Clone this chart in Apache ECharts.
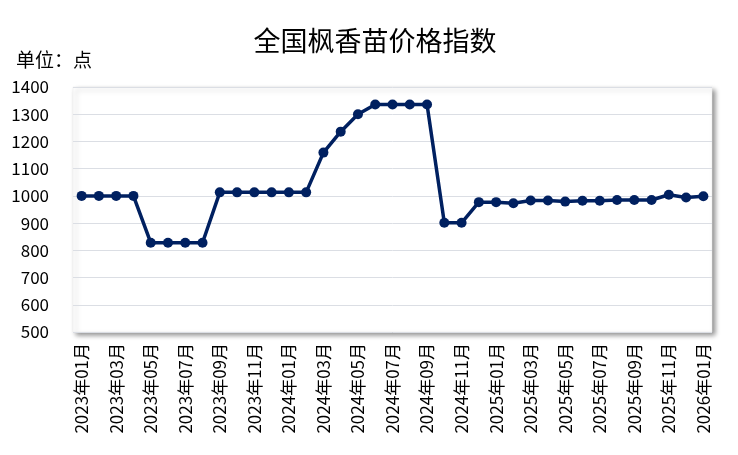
<!DOCTYPE html>
<html><head><meta charset="utf-8">
<script src="https://cdn.jsdelivr.net/npm/echarts@6/dist/echarts.min.js"></script>
<style>html,body{margin:0;padding:0;background:#fff}#c{width:738px;height:455px}</style>
</head><body><div id="c"></div>
<script>
const categories = ["2023年01月","2023年02月","2023年03月","2023年04月","2023年05月","2023年06月","2023年07月","2023年08月","2023年09月","2023年10月","2023年11月","2023年12月",
"2024年01月","2024年02月","2024年03月","2024年04月","2024年05月","2024年06月","2024年07月","2024年08月","2024年09月","2024年10月","2024年11月","2024年12月",
"2025年01月","2025年02月","2025年03月","2025年04月","2025年05月","2025年06月","2025年07月","2025年08月","2025年09月","2025年10月","2025年11月","2025年12月","2026年01月"];
const indexValues = [1000,1000,1000,1000,828,828,828,828,1013,1013,1013,1013,
1013,1013,1159,1236,1300,1336,1336,1336,1336,901,901,977,
977,973,983,983,979,982,982,985,985,985,1004,994,999];
const yTicks = {min:500, max:1400, interval:100};
const titleText = "全国枫香苗价格指数";
const unitText = "单位：点";

const font = "'Noto Sans CJK SC', 'Noto Sans', sans-serif";
const chart = echarts.init(document.getElementById('c'));
chart.setOption({
  animation:false,
  textStyle:{fontFamily:font},
  title:[
    {text:titleText,left:370,top:22,textAlign:'center',textStyle:{fontSize:27,fontWeight:'normal',color:'#000',fontFamily:font}},
    {text:unitText,left:11,top:45,textStyle:{fontSize:19,fontWeight:'normal',color:'#000',fontFamily:font}}
  ],
  grid:{left:73,right:26,top:87,bottom:123,show:true,backgroundColor:'#fff',borderWidth:0.5,borderColor:'#e8e8e8',
        shadowColor:'rgba(0,0,0,0.45)',shadowBlur:5,shadowOffsetX:3,shadowOffsetY:3},
  xAxis:{type:'category',data:categories,boundaryGap:true,
    axisLine:{show:false},axisTick:{show:false},
    axisLabel:{interval:1,rotate:90,fontSize:17,color:'#000',margin:11,fontFamily:font}},
  yAxis:{type:'value',min:yTicks.min,max:yTicks.max,interval:yTicks.interval,
    axisLine:{show:false},axisTick:{show:false},
    axisLabel:{fontSize:17,color:'#000',margin:24,fontFamily:font,formatter:v=>String(v)}},
  series:[{type:'line',data:indexValues,symbol:'circle',symbolSize:10,
    lineStyle:{color:'#002060',width:3.5},itemStyle:{color:'#002060'}}]
});
</script></body></html>
